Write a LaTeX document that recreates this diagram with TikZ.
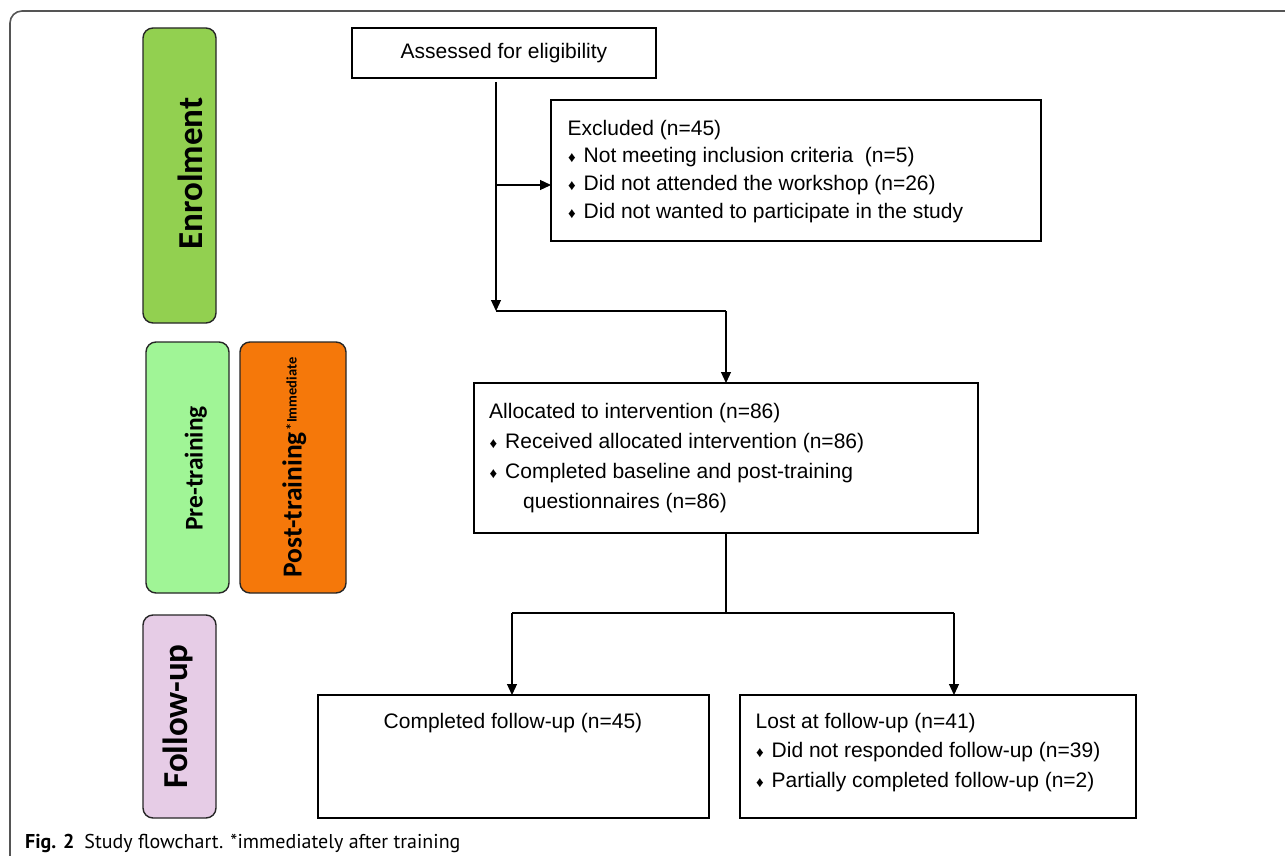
\documentclass[tikz,border=0pt]{standalone}
\usepackage{fontspec}
\setmainfont{Liberation Sans}
\newfontfamily\calib{Carlito}
\newfontfamily\capf{PT Sans}
\usetikzlibrary{arrows.meta}
\definecolor{enrolg}{RGB}{146,208,80}
\definecolor{preg}{RGB}{160,245,150}
\definecolor{posto}{RGB}{245,120,10}
\definecolor{fupp}{RGB}{230,204,230}
\definecolor{framegray}{RGB}{85,85,85}
\newcommand\bul{\makebox[16pt][l]{\hspace{0.5pt}{\fontsize{15}{15}\selectfont ♦}}}
\newcommand\topstrut{\rule{0pt}{16pt}}
\begin{document}
\begin{tikzpicture}[x=1pt,y=-1pt,
  box/.style={draw=black, line width=1.2pt, inner sep=0pt, outer sep=0pt, anchor=north west},
  phase/.style={draw=black!85, line width=1.4pt, rounded corners=10pt, inner sep=0pt, outer sep=0pt, anchor=north west},
  txt/.style={inner sep=0pt, align=left, anchor=north west},
  plabel/.style={inner sep=0pt, rotate=90, anchor=base},
  arr/.style={line width=1.2pt, -{Triangle[length=11pt,width=10pt]}},
  conn/.style={line width=1.2pt}]
\useasboundingbox (0,0) rectangle (1285,856);
% outer frame
\draw[framegray, line width=1.6pt, rounded corners=12pt] (1300,11) -- (10,11) -- (10,870);

% phase boxes
\node[phase, fill=enrolg, minimum width=73pt, minimum height=295pt] (enrol) at (143,28) {};
\node[phase, fill=preg, minimum width=83pt, minimum height=251pt] (pre) at (146,342) {};
\node[phase, fill=posto, minimum width=106pt, minimum height=251pt] (post) at (240,342) {};
\node[phase, fill=fupp, minimum width=73pt, minimum height=203pt] (fup) at (143,615) {};

\node[plabel, font=\calib\bfseries\fontsize{35}{35}\selectfont] (enrolt) at (202,173.7) {Enrolment};
\node[plabel, font=\calib\bfseries\fontsize{25.5}{25.5}\selectfont] (pret) at (202.7,468.5) {Pre-training};
\node[plabel, font=\calib\bfseries\fontsize{27.5}{27.5}\selectfont] (postt) at (301.7,467.5) {Post-training\hspace{2pt}\raisebox{5pt}{\fontsize{14.5}{14.5}\selectfont *Immediate}};
\node[plabel, font=\calib\bfseries\fontsize{35}{35}\selectfont] (fupt) at (187,716.5) {Follow-up};

% flow boxes
\node[box, minimum width=304pt, minimum height=50pt] (assess) at (352,28) {};
\node[box, minimum width=490pt, minimum height=141pt] (excl) at (551,100) {};
\node[box, minimum width=504pt, minimum height=150pt] (alloc) at (474,383) {};
\node[box, minimum width=391pt, minimum height=123pt] (comp) at (318,695) {};
\node[box, minimum width=396pt, minimum height=123pt] (lost) at (740,695) {};

% texts
\node[inner sep=0pt, anchor=base, font=\fontsize{21}{21}\selectfont] (assesst) at (504,58.5) {Assessed for eligibility};
\node[txt, font=\fontsize{21}{27.7}\selectfont] (exclt) at (567.5,119) {\topstrut Excluded (n=45)\\
\bul Not meeting inclusion criteria\ \ (n=5)\\
\bul Did not attended the workshop (n=26)\\
\bul Did not wanted to participate in the study};
\node[txt, font=\fontsize{21}{30}\selectfont] (alloct) at (489,402) {\topstrut Allocated to intervention (n=86)\\
\bul Received allocated intervention (n=86)\\
\bul Completed baseline and post-training\\
\hspace*{34pt}questionnaires (n=86)};
\node[inner sep=0pt, anchor=base, font=\fontsize{21}{21}\selectfont] (compt) at (513,728.5) {Completed follow-up (n=45)};
\node[txt, font=\fontsize{21}{29.5}\selectfont] (lostt) at (755.5,712) {\topstrut Lost at follow-up (n=41)\\
\bul Did not responded follow-up (n=39)\\
\bul Partially completed follow-up (n=2)};

% caption
\node[inner sep=0pt, anchor=base west, font=\capf\fontsize{20}{20}\selectfont] (cap) at (25,848) {\textbf{Fig. 2}\hspace{10pt}Study flowchart. *immediately after training};

% connectors
\coordinate (j1) at (496,311);
\coordinate (jx) at (496,185);
\coordinate (j2) at (726,311);
\coordinate (j3) at (726,613);
\coordinate (jl) at (512,613);
\coordinate (jr) at (954,613);
\draw[arr] ([yshift=-4pt]assess.south -| j1) -- (j1);
\draw[arr] (jx) -- (excl.west |- jx);
\draw[conn] (j1) -- (j2);
\draw[arr] (j2) -- (alloc.north -| j2);
\draw[conn] (alloc.south -| j3) -- (j3);
\draw[conn] (jl) -- (jr);
\draw[arr] (jl) -- (comp.north -| jl);
\draw[arr] (jr) -- (lost.north -| jr);
\end{tikzpicture}
\end{document}
